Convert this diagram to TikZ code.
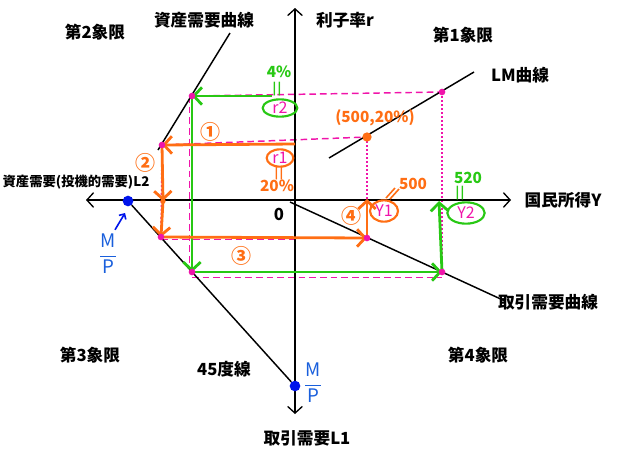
\documentclass[tikz,border=0pt]{standalone}
\usepackage{fontspec}
\setmainfont{Noto Sans CJK JP}
\usetikzlibrary{arrows.meta,shapes.geometric}
\definecolor{grn}{RGB}{40,200,20}
\definecolor{org}{RGB}{255,110,20}
\definecolor{pnk}{RGB}{240,20,170}
\definecolor{blu}{RGB}{0,20,235}
\definecolor{mpblue}{RGB}{25,95,220}
\begin{document}
\begin{tikzpicture}[x=0.75pt,y=-0.75pt,
  lbl/.style={font=\fontsize{12.5}{14}\selectfont\bfseries,inner sep=0},
  slbl/.style={font=\fontsize{10}{12}\selectfont\bfseries,inner sep=0},
  hand/.style={font=\fontsize{11.5}{12}\selectfont\bfseries,inner sep=0},
  axisline/.style={line width=1pt,{Straight Barb[length=5pt,width=11pt]}-{Straight Barb[length=5pt,width=11pt]}},
  crv/.style={line width=1.1pt},
  garr/.style={grn,line width=2.1pt,-{Straight Barb[length=6pt,width=13pt]}},
  oarr/.style={org,line width=2.1pt,-{Straight Barb[length=6pt,width=13pt]}},
  pdash/.style={pnk,line width=1.1pt,dash pattern=on 5pt off 3pt},
  pdot/.style={pnk,line width=1.1pt,dash pattern=on 1.5pt off 1.5pt},
  pdotn/.style={circle,fill=pnk,inner sep=0,minimum size=5pt},
  bdot/.style={circle,fill=blu,inner sep=0,minimum size=8pt},
  odot/.style={circle,fill=org,inner sep=0,minimum size=7pt},
  ell/.style={ellipse,draw=#1,line width=1.6pt,text=pnk,inner sep=0,font=\fontsize{12}{12}\selectfont},
  eqmark/.style={inner sep=0,font=\fontsize{9}{10}\selectfont\bfseries},
  circnum/.style={text=org,inner sep=0,font=\fontsize{15}{16}\selectfont\bfseries},
  mpfrac/.style={text=mpblue,inner sep=0,font=\fontsize{14}{16}\selectfont}]
\useasboundingbox (0,0) rectangle (620,458);
% coordinates
\coordinate (yT) at (295,8);
\coordinate (yB) at (295,414);
\coordinate (xL) at (86,200);
\coordinate (xR) at (511,200);
\coordinate (ad1) at (230,33);
\coordinate (ad2) at (158,150);
\coordinate (tdA) at (290,202);
\coordinate (tdB) at (505,301);
\coordinate (lmA) at (329,158);
\coordinate (lmB) at (474,72);
\coordinate (P1) at (192,96);
\coordinate (P2) at (162,145);
\coordinate (P3) at (442,92);
\coordinate (P4) at (161,237);
\coordinate (P5) at (192,272);
\coordinate (P6) at (442,272);
\coordinate (P7) at (367,238);
\coordinate (E1) at (367,137);
\coordinate (Mid2) at (163,201);
\coordinate (g0) at (272,96);
\coordinate (o0) at (295,144);
\coordinate (gY2) at (439,201);
\coordinate (oY1) at (367,199);
% pink guide lines
\draw[pdash] (P1) -- (P3);
\draw[pdash] (P2) -- (E1);
\draw[pdot] (E1) -- (P7);
\draw[pdot] (P3) -- (P6);
\draw[pdot] (P2) -- (P4);
\draw[pdash] ([xshift=-2pt]P1) -- ([xshift=-2pt]P5);
\draw[pdash] ([yshift=-2pt]P4) -- ([yshift=-2pt]o0 |- P4);
\draw[pdash] ([yshift=-4pt]P5) -- ([yshift=-4pt]P6);
% axes
\draw[axisline] (yB) -- (yT);
\draw[axisline] (xL) -- (xR);
% black curves
\draw[crv] (ad1) -- (ad2);
\node[bdot] (mpL) at (128,201) {};
\node[bdot] (mpB) at (295,386) {};
\draw[crv] (mpL) -- (mpB);
\draw[crv] (tdA) -- (tdB);
\draw[crv] (lmA) -- (lmB);
% green arrows
\draw[garr] (g0) -- (P1);
\draw[garr] (P1) -- (P5);
\draw[garr] (P5) -- (P6);
\draw[garr] (P6) -- (gY2);
% orange arrows
\draw[oarr] (o0) -- (P2);
\draw[oarr] (P2) -- (Mid2);
\draw[oarr] (Mid2) -- (P4);
\draw[oarr] (P4) -- (P7);
\draw[oarr] (P7) -- (oY1);
% dots
\foreach \p in {P1,P2,P3,P4,P5,P6,P7} \node[pdotn] at (\p) {};
\node[odot] (eq1) at (E1) {};
\node[circle,fill=org,inner sep=0,minimum size=4pt] (m2) at (Mid2) {};
% labels
\node[lbl] (q2) at (95,32) {第2象限};
\node[lbl] (adc) at (204,20) {資産需要曲線};
\node[lbl] (rlab) at (345,20) {利子率r};
\node[lbl] (q1) at (463,35) {第1象限};
\node[lbl] (lmlab) at (520,75) {LM曲線};
\node[slbl] (l2lab) at (76,182) {資産需要(投機的需要)L2};
\node[lbl] (xlab) at (563,200) {国民所得Y};
\node[lbl] (tdlab) at (548,302) {取引需要曲線};
\node[lbl] (q3) at (90,355) {第3象限};
\node[lbl] (q4) at (478,355) {第4象限};
\node[lbl] (l45) at (224,369) {45度線};
\node[lbl] (l1lab) at (307,438) {取引需要L1};
\node[lbl] (zero) at (279,214) {0};
% M/P
\node[mpfrac] (mpl) at (108,254) {$\displaystyle\frac{\mbox{M}}{\mbox{P}}$};
\node[mpfrac] (mpb) at (313,383) {$\displaystyle\frac{\mbox{M}}{\mbox{P}}$};
\draw[blu,line width=1.2pt,-{Straight Barb[length=3pt,width=6pt]}] (mpl.north) ++(7,-4) coordinate (ba) -- (125,213) coordinate (bb);
% green annotations
\node[ell=grn,minimum width=26pt,minimum height=13pt] (r2) at (280,108) {r2};
\node[hand,text=grn] (g4) at (279,72) {4\%};
\node[eqmark,text=grn] (ge1) at (277,89) {|\kern0.8pt|};
\node[ell=grn,minimum width=28pt,minimum height=16pt] (Y2) at (466,213) {Y2};
\node[hand,text=grn] (g520) at (468,178) {520};
\node[eqmark,text=grn] (ge2) at (460,193) {|\kern0.8pt|};
% orange annotations
\node[ell=org,minimum width=20pt,minimum height=13pt] (r1) at (280,158) {r1};
\node[eqmark,text=org] (oe1) at (279,173) {|\kern0.8pt|};
\node[hand,text=org] (o20) at (277,186) {20\%};
\node[ell=org,minimum width=21pt,minimum height=16pt] (Y1) at (384,211) {Y1};
\node[hand,text=org] (o500) at (413,184) {500};
\draw[org,line width=1.2pt] (386,198) -- (395,188) (390,199) -- (399,189);
\node[hand,text=org] (opt) at (375,118) {(500,20\%)};
\node[circnum] (c1) at (210,132) {①};
\node[circnum] (c2) at (145,163) {②};
\node[circnum] (c3) at (241,256) {③};
\node[circnum] (c4) at (351,216) {④};
\end{tikzpicture}
\end{document}
